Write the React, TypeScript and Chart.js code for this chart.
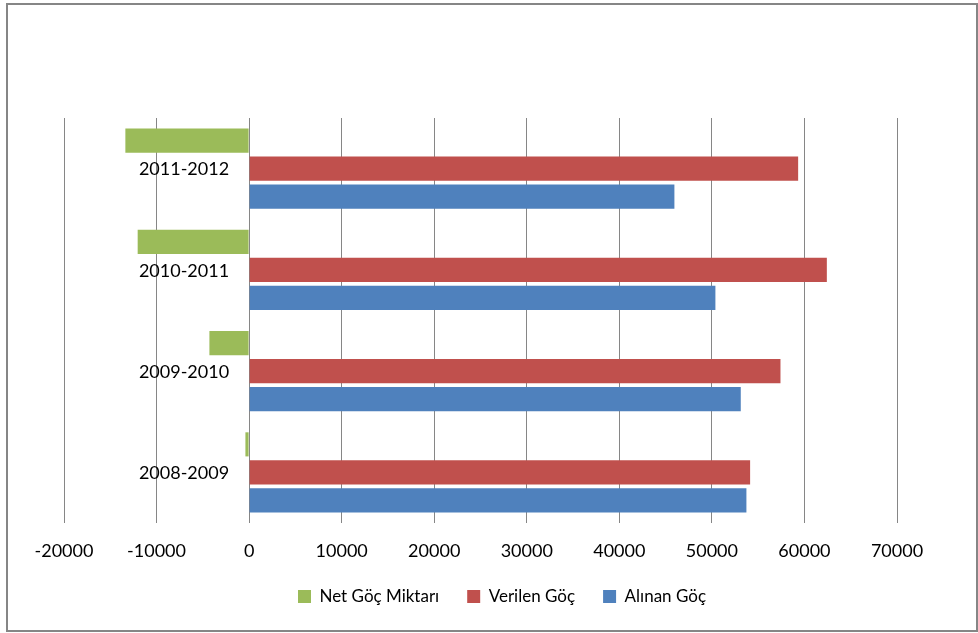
import React, { useEffect, useRef } from "react";
import { Chart, registerables } from "chart.js";

Chart.register(...registerables);

const categories = ["2011-2012", "2010-2011", "2009-2010", "2008-2009"];
const netGoc = [-13370, -12040, -4290, -400];
const verilenGoc = [59320, 62420, 57410, 54130];
const alinanGoc = [45950, 50380, 53120, 53730];
const xTicks = [-20000, -10000, 0, 10000, 20000, 30000, 40000, 50000, 60000, 70000];

const FONT = "Lato";

const frameAndLabels = {
  id: "frameAndLabels",
  afterDraw(chart: any) {
    const ctx = chart.ctx;
    ctx.save();
    ctx.strokeStyle = "#868686";
    ctx.lineWidth = 2;
    ctx.strokeRect(7, 4, 970, 627);
    const xs = chart.scales.x;
    const ys = chart.scales.y;
    const x0 = xs.getPixelForValue(0);
    ctx.fillStyle = "#000";
    ctx.font = `18px ${FONT}`;
    ctx.textAlign = "right";
    ctx.textBaseline = "middle";
    categories.forEach((c, i) => {
      ctx.fillText(c, x0 - 20, ys.getPixelForValue(i) + 1);
    });
    ctx.restore();
  },
};

export default function App() {
  const ref = useRef<HTMLCanvasElement | null>(null);
  useEffect(() => {
    if (!ref.current) return;
    const chart = new Chart(ref.current, {
      type: "bar",
      data: {
        labels: categories,
        datasets: [
          { label: "Net Göç Miktarı", data: netGoc, backgroundColor: "#9BBB59" },
          { label: "Verilen Göç", data: verilenGoc, backgroundColor: "#C0504D" },
          { label: "Alınan Göç", data: alinanGoc, backgroundColor: "#4F81BD" },
        ],
      },
      options: {
        indexAxis: "y",
        animation: false,
        responsive: false,
        maintainAspectRatio: false,
        categoryPercentage: 0.83,
        barPercentage: 0.86,
        layout: { padding: { left: 26, right: 0, top: 118, bottom: 18 } },
        scales: {
          x: {
            type: "linear",
            min: -20000,
            max: 70000,
            afterBuildTicks: (s: any) => {
              s.ticks = xTicks.map((v) => ({ value: v }));
            },
            afterFit: (s: any) => {
              s.height = 37;
            },
            grid: { color: "#868686", lineWidth: 1, drawTicks: false },
            border: { display: false },
            ticks: {
              color: "#000",
              font: { family: FONT, size: 18 },
              padding: 17,
              maxRotation: 0,
              autoSkip: false,
              callback: (v: any) => String(v),
            },
          },
          y: {
            type: "category",
            display: true,
            grid: { display: false },
            border: { display: false },
            ticks: { display: false },
            afterFit: (s: any) => {
              s.width = 38;
            },
          },
          y2: {
            type: "linear",
            position: "right",
            display: true,
            grid: { display: false },
            border: { display: false },
            ticks: { display: false },
            afterFit: (s: any) => {
              s.width = 81;
            },
          },
        },
        plugins: {
          legend: {
            position: "bottom",
            labels: {
              boxWidth: 13,
              boxHeight: 13,
              padding: 28,
              color: "#000",
              font: { family: FONT, size: 17 },
            },
          },
          tooltip: { enabled: false },
        },
      },
      plugins: [frameAndLabels],
    });
    return () => chart.destroy();
  }, []);
  return (
    <div style={{ position: "fixed", left: 0, top: 0, width: 978, height: 633, background: "#fff" }}>
      <canvas ref={ref} width={978} height={633} style={{ display: "block" }} />
    </div>
  );
}
